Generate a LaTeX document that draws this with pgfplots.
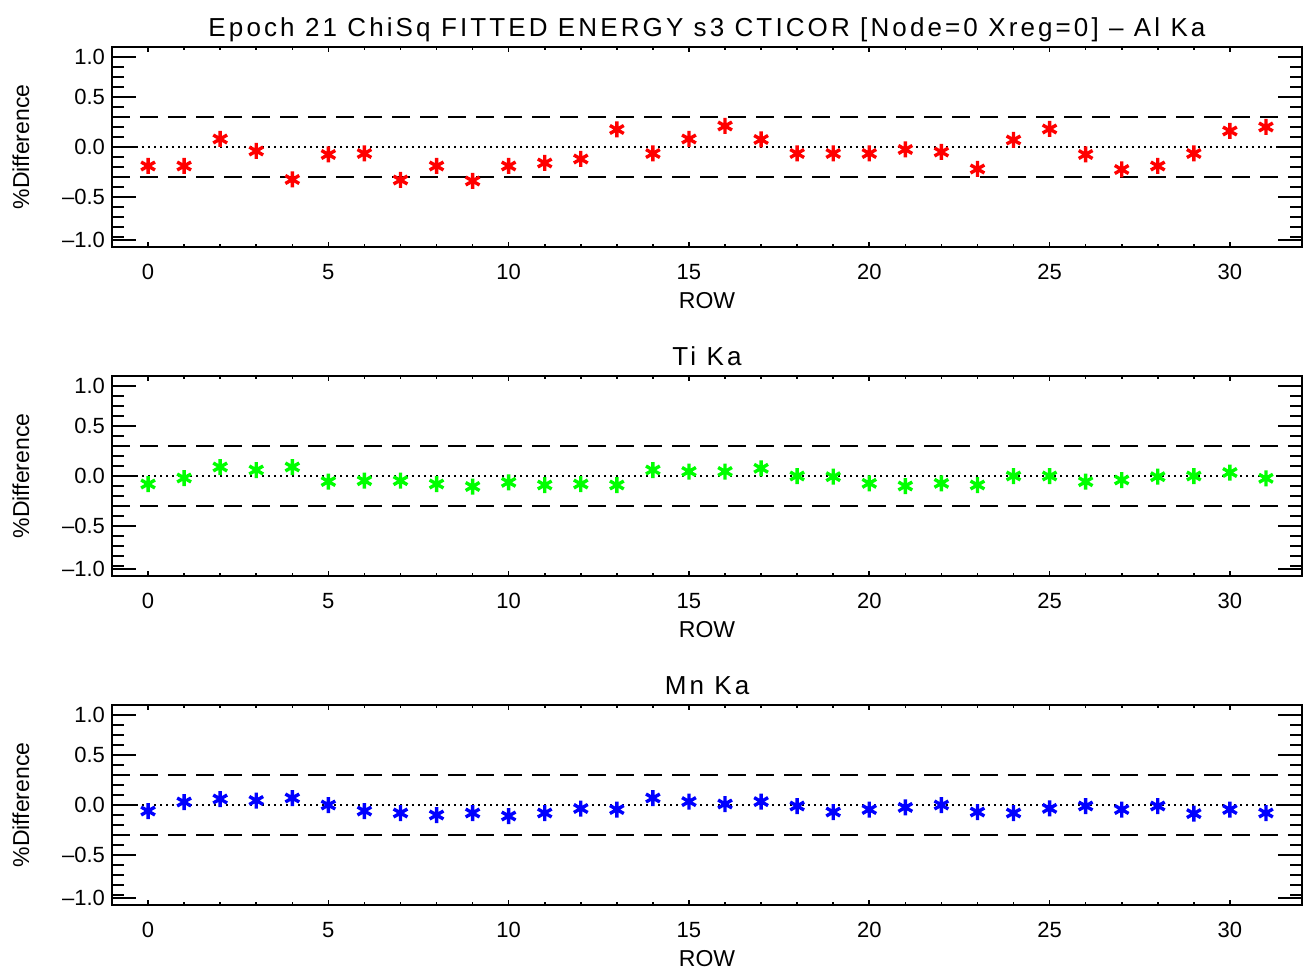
\documentclass[border=0pt]{standalone}
\usepackage{pgfplots}
\pgfplotsset{compat=1.18}
\usepackage{fontspec}
\setmainfont{Liberation Sans}
\newfontfamily\titlefont[LetterSpace=12]{Liberation Sans}

\pgfplotstableread{
x red green blue
0 -0.19 -0.08 -0.06
1 -0.19 -0.02 0.03
2 0.08 0.09 0.06
3 -0.04 0.06 0.045
4 -0.325 0.09 0.07
5 -0.075 -0.055 0.0
6 -0.065 -0.047 -0.06
7 -0.33 -0.047 -0.08
8 -0.19 -0.08 -0.10
9 -0.34 -0.105 -0.08
10 -0.19 -0.063 -0.11
11 -0.16 -0.09 -0.08
12 -0.12 -0.08 -0.035
13 0.175 -0.09 -0.045
14 -0.065 0.06 0.07
15 0.08 0.045 0.034
16 0.21 0.045 0.01
17 0.075 0.077 0.034
18 -0.065 0.0 -0.01
19 -0.065 -0.007 -0.07
20 -0.065 -0.073 -0.045
21 -0.025 -0.10 -0.024
22 -0.05 -0.073 0.0
23 -0.22 -0.09 -0.07
24 0.07 0.0 -0.08
25 0.18 0.0 -0.034
26 -0.075 -0.057 -0.01
27 -0.225 -0.04 -0.045
28 -0.19 -0.007 -0.01
29 -0.065 0.0 -0.086
30 0.16 0.035 -0.045
31 0.20 -0.023 -0.08
}\datatable

\pgfplotsset{
  panel/.style={
    scale only axis, width=595pt, height=100pt,
    xmin=-1, xmax=32, ymin=-1, ymax=1,
    xtick={0,5,...,30}, minor x tick num=4,
    ytick={-1,-0.5,0,0.5,1},
    yticklabels={,–0.5,0.0,0.5,},
    extra y ticks={-0.93,0.9},
    extra y tick labels={–1.0,1.0},
    extra y tick style={/pgfplots/major tick length=0pt},
    minor y tick num=4,
    tick align=inside,
    axis line style={line width=1pt},
    xtick style={/pgfplots/major tick length=2.5pt, /pgfplots/minor tick length=1.5pt, line width=0.8pt, black},
    ytick style={/pgfplots/major tick length=12pt, /pgfplots/minor tick length=6pt, line width=0.8pt, black},
    /pgf/number format/assume math mode=true,
    ticklabel style={font=\fontsize{11}{13}\selectfont},
    xticklabel style={yshift=-5pt},
    label style={font=\fontsize{11.5}{13}\selectfont},
    title style={font=\titlefont\fontsize{13}{15}\selectfont, at={(0.5,1)}, anchor=base, yshift=-0.8pt},
    xlabel=ROW, ylabel=\%Difference,
    xlabel style={yshift=0.5pt},
    ylabel style={yshift=9.5pt},
    clip=false,
  },
  refdash/.style={black, line width=0.9pt, dash pattern=on 9pt off 5pt},
  refdot/.style={black, line width=0.9pt, dash pattern=on 1pt off 2pt},
  pts/.style={only marks, mark=asterisk, mark size=4pt, line width=1.7pt},
}

\begin{document}
\begin{tikzpicture}
\path (-56pt,-35.5pt) rectangle (598.5pt,452.5pt);
% top panel
\begin{axis}[panel, at={(0,329pt)}, anchor=south west,
  title={Epoch 21 ChiSq FITTED ENERGY s3 CTICOR [Node=0 Xreg=0] – Al Ka}]
\addplot[refdash] coordinates {(-1,0.3) (32,0.3)};
\addplot[refdash] coordinates {(-1,-0.3) (32,-0.3)};
\addplot[refdot] coordinates {(-1,0) (32,0)};
\addplot[pts, red] table[x=x, y=red] {\datatable};
\end{axis}
% middle panel
\begin{axis}[panel, at={(0,164.5pt)}, anchor=south west, title={Ti Ka}]
\addplot[refdash] coordinates {(-1,0.3) (32,0.3)};
\addplot[refdash] coordinates {(-1,-0.3) (32,-0.3)};
\addplot[refdot] coordinates {(-1,0) (32,0)};
\addplot[pts, color={rgb,255:red,0;green,255;blue,0}] table[x=x, y=green] {\datatable};
\end{axis}
% bottom panel
\begin{axis}[panel, at={(0,0)}, anchor=south west, title={Mn Ka}]
\addplot[refdash] coordinates {(-1,0.3) (32,0.3)};
\addplot[refdash] coordinates {(-1,-0.3) (32,-0.3)};
\addplot[refdot] coordinates {(-1,0) (32,0)};
\addplot[pts, blue] table[x=x, y=blue] {\datatable};
\end{axis}
\end{tikzpicture}
\end{document}
